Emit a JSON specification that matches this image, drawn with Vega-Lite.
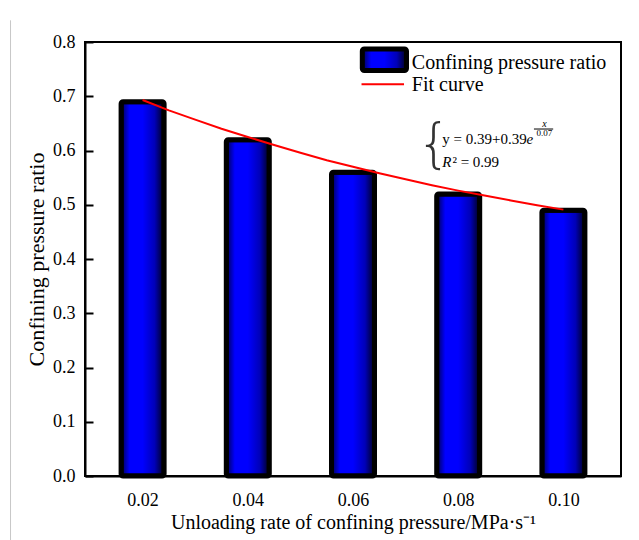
{
  "$schema": "https://vega.github.io/schema/vega-lite/v6.json",
  "width": 536,
  "height": 434,
  "autosize": "none",
  "padding": {"left": 85, "top": 42, "right": 18, "bottom": 64},
  "background": "white",
  "config": {
    "font": "Liberation Serif",
    "view": {"stroke": "black", "strokeWidth": 2},
    "axis": {
      "domainColor": "black",
      "domainWidth": 2,
      "grid": false,
      "tickColor": "black",
      "tickWidth": 2,
      "labelFont": "Liberation Serif",
      "labelFontSize": 18,
      "labelColor": "black"
    }
  },
  "datasets": {
    "bars": [
      {"rate": 0.02, "ratio": 0.69},
      {"rate": 0.04, "ratio": 0.62},
      {"rate": 0.06, "ratio": 0.56},
      {"rate": 0.08, "ratio": 0.52},
      {"rate": 0.10, "ratio": 0.49}
    ],
    "fit": [
      {"rate": 0.020, "ratio": 0.693},
      {"rate": 0.025, "ratio": 0.674},
      {"rate": 0.030, "ratio": 0.657},
      {"rate": 0.035, "ratio": 0.640},
      {"rate": 0.040, "ratio": 0.625},
      {"rate": 0.045, "ratio": 0.610},
      {"rate": 0.050, "ratio": 0.596},
      {"rate": 0.055, "ratio": 0.582},
      {"rate": 0.060, "ratio": 0.570},
      {"rate": 0.065, "ratio": 0.558},
      {"rate": 0.070, "ratio": 0.547},
      {"rate": 0.075, "ratio": 0.536},
      {"rate": 0.080, "ratio": 0.526},
      {"rate": 0.085, "ratio": 0.517},
      {"rate": 0.090, "ratio": 0.508},
      {"rate": 0.095, "ratio": 0.499},
      {"rate": 0.100, "ratio": 0.491}
    ],
    "note": [{}]
  },
  "layer": [
    {
      "data": {"name": "bars"},
      "mark": {
        "type": "bar",
        "orient": "vertical",
        "size": 43,
        "stroke": "black",
        "strokeWidth": 5,
        "strokeJoin": "round",
        "cornerRadius": 2,
        "fill": {
          "gradient": "linear",
          "x1": 0, "x2": 1, "y1": 0, "y2": 0,
          "stops": [
            {"offset": 0, "color": "#000050"},
            {"offset": 0.2, "color": "#0000ff"},
            {"offset": 0.5, "color": "#0000ff"},
            {"offset": 0.78, "color": "#0000b8"},
            {"offset": 1, "color": "#000018"}
          ]
        }
      },
      "encoding": {
        "x": {
          "field": "rate",
          "type": "quantitative",
          "scale": {"domain": [0.01, 0.11], "nice": false, "zero": false},
          "axis": {
            "values": [0.02, 0.04, 0.06, 0.08, 0.10],
            "format": ".2f",
            "ticks": false,
            "labelPadding": 15,
            "title": "Unloading rate of confining pressure/MPa·s⁻¹",
            "titleFont": "Liberation Serif",
            "titleFontSize": 20,
            "titleFontWeight": "normal",
            "titleColor": "black",
            "titlePadding": 3
          }
        },
        "y": {
          "field": "ratio",
          "type": "quantitative",
          "scale": {"domain": [0, 0.8], "nice": false},
          "axis": {
            "values": [0, 0.1, 0.2, 0.3, 0.4, 0.5, 0.6, 0.7, 0.8],
            "format": ".1f",
            "tickSize": -8,
            "labelPadding": 18,
            "title": "Confining pressure ratio",
            "titleFont": "Liberation Serif",
            "titleFontSize": 22,
            "titleFontWeight": "normal",
            "titleColor": "black",
            "titlePadding": 4
          }
        }
      }
    },
    {
      "data": {"name": "fit"},
      "mark": {"type": "line", "color": "#ff0000", "strokeWidth": 2},
      "encoding": {
        "x": {"field": "rate", "type": "quantitative"},
        "y": {"field": "ratio", "type": "quantitative"}
      }
    },
    {
      "data": {"name": "note"},
      "mark": {"type": "rule", "color": "#c8c8c8", "strokeWidth": 1, "clip": false},
      "encoding": {
        "x": {"datum": -0.00511, "type": "quantitative"},
        "y": {"datum": 0.84, "type": "quantitative"},
        "y2": {"datum": -0.118}
      }
    },
    {
      "data": {"name": "note"},
      "mark": {
        "type": "rect",
        "stroke": "black",
        "strokeWidth": 5,
        "strokeJoin": "round",
        "cornerRadius": 2,
        "fill": {
          "gradient": "linear",
          "x1": 0, "x2": 1, "y1": 0, "y2": 0,
          "stops": [
            {"offset": 0, "color": "#000050"},
            {"offset": 0.2, "color": "#0000ff"},
            {"offset": 0.5, "color": "#0000ff"},
            {"offset": 0.78, "color": "#0000b8"},
            {"offset": 1, "color": "#000018"}
          ]
        }
      },
      "encoding": {
        "x": {"datum": 0.06177, "type": "quantitative"},
        "x2": {"datum": 0.07017},
        "y": {"datum": 0.7871, "type": "quantitative"},
        "y2": {"datum": 0.7475}
      }
    },
    {
      "data": {"name": "note"},
      "mark": {"type": "text", "text": "Confining pressure ratio", "align": "left", "baseline": "alphabetic", "font": "Liberation Serif", "fontSize": 20, "color": "black"},
      "encoding": {
        "x": {"datum": 0.07119, "type": "quantitative"},
        "y": {"datum": 0.7502, "type": "quantitative"}
      }
    },
    {
      "data": {"name": "note"},
      "mark": {"type": "rule", "color": "#ff0000", "strokeWidth": 2},
      "encoding": {
        "x": {"datum": 0.06162, "type": "quantitative"},
        "x2": {"datum": 0.0697},
        "y": {"datum": 0.722, "type": "quantitative"}
      }
    },
    {
      "data": {"name": "note"},
      "mark": {"type": "text", "text": "Fit curve", "align": "left", "baseline": "alphabetic", "font": "Liberation Serif", "fontSize": 20, "color": "black"},
      "encoding": {
        "x": {"datum": 0.07119, "type": "quantitative"},
        "y": {"datum": 0.7088, "type": "quantitative"}
      }
    },
    {
      "data": {"name": "note"},
      "mark": {"type": "text", "text": "{", "align": "center", "baseline": "middle", "font": "DejaVu Sans", "fontWeight": 200, "fontSize": 54, "color": "#333333"},
      "encoding": {
        "x": {"datum": 0.07540, "type": "quantitative"},
        "y": {"datum": 0.6085, "type": "quantitative"}
      }
    },
    {
      "data": {"name": "note"},
      "mark": {"type": "text", "text": "y = 0.39+0.39", "align": "left", "baseline": "alphabetic", "font": "Liberation Serif", "fontSize": 15, "color": "black"},
      "encoding": {
        "x": {"datum": 0.07699, "type": "quantitative"},
        "y": {"datum": 0.6114, "type": "quantitative"}
      }
    },
    {
      "data": {"name": "note"},
      "mark": {"type": "text", "text": "e", "align": "left", "baseline": "alphabetic", "font": "Liberation Serif", "fontSize": 15, "fontStyle": "italic", "color": "black"},
      "encoding": {
        "x": {"datum": 0.09300, "type": "quantitative"},
        "y": {"datum": 0.6114, "type": "quantitative"}
      }
    },
    {
      "data": {"name": "note"},
      "mark": {"type": "rule", "color": "black", "strokeWidth": 1},
      "encoding": {
        "x": {"datum": 0.09440, "type": "quantitative"},
        "x2": {"datum": 0.09806},
        "y": {"datum": 0.6396, "type": "quantitative"}
      }
    },
    {
      "data": {"name": "note"},
      "mark": {"type": "text", "text": "x", "align": "center", "baseline": "alphabetic", "font": "Liberation Serif", "fontSize": 10, "fontStyle": "italic", "color": "black"},
      "encoding": {
        "x": {"datum": 0.09638, "type": "quantitative"},
        "y": {"datum": 0.6439, "type": "quantitative"}
      }
    },
    {
      "data": {"name": "note"},
      "mark": {"type": "text", "text": "0.07", "align": "center", "baseline": "alphabetic", "font": "Liberation Serif", "fontSize": 9, "color": "black"},
      "encoding": {
        "x": {"datum": 0.09638, "type": "quantitative"},
        "y": {"datum": 0.6262, "type": "quantitative"}
      }
    },
    {
      "data": {"name": "note"},
      "mark": {"type": "text", "text": "R", "align": "left", "baseline": "alphabetic", "font": "Liberation Serif", "fontSize": 15, "fontStyle": "italic", "color": "black"},
      "encoding": {
        "x": {"datum": 0.07699, "type": "quantitative"},
        "y": {"datum": 0.5702, "type": "quantitative"}
      }
    },
    {
      "data": {"name": "note"},
      "mark": {"type": "text", "text": "² = 0.99", "align": "left", "baseline": "alphabetic", "font": "Liberation Serif", "fontSize": 15, "color": "black"},
      "encoding": {
        "x": {"datum": 0.07890, "type": "quantitative"},
        "y": {"datum": 0.5702, "type": "quantitative"}
      }
    }
  ]
}
